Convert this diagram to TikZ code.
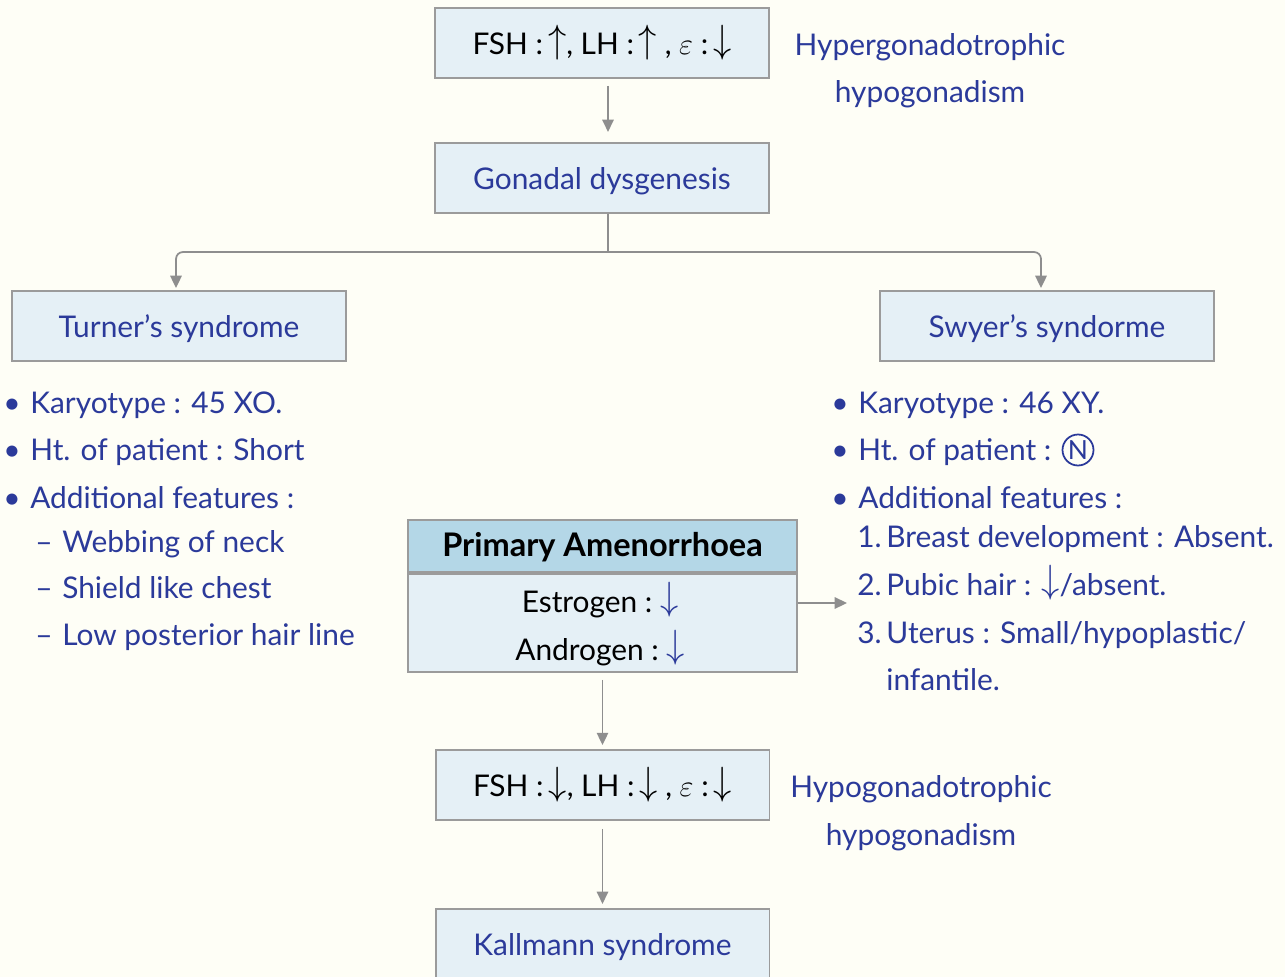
\documentclass[tikz,border=0pt]{standalone}
\usepackage{fontspec}
\usepackage{graphicx}
\setmainfont{Lato}
\usetikzlibrary{arrows.meta, positioning}
\definecolor{ink}{HTML}{2B3A9A}
\definecolor{paper}{HTML}{FEFEF6}
\definecolor{boxfill}{HTML}{E5F0F6}
\definecolor{boxline}{HTML}{9B9B9B}
\definecolor{headfill}{HTML}{B4D7E7}
\definecolor{wire}{HTML}{8E8E8E}
\newcommand{\bul}{\makebox[0.54cm][l]{\textbullet}}
\newcommand{\dsh}{\makebox[0.54cm][l]{--}}
\newcommand{\numlab}[1]{\makebox[0.58cm][l]{#1}}
\newcommand{\up}{\raisebox{0.08em}{\scalebox{1.2}[1.3]{$\uparrow$}}}
\newcommand{\dn}{\raisebox{0.08em}{\scalebox{1.2}[1.3]{$\downarrow$}}}
\tikzset{
  % Flow boxes
  box/.style={
    draw=boxline, fill=boxfill, line width=1.1pt,
    minimum width=6.68cm, minimum height=1.4cm,
    text height=17pt, text depth=3.5pt,
    font=\fontsize{17}{20}\selectfont, text=ink,
  },
  head/.style={box, fill=headfill, minimum width=7.78cm,
    minimum height=1.04cm, text=black, text height=16pt,
    font=\fontsize{18.5}{20}\selectfont\bfseries},
  % Arrows
  flow/.style={-{Triangle[length=7pt, width=6.5pt]}, line width=1pt, wire},
  % Free text
  entry/.style={anchor=base west, inner sep=0pt,
    font=\fontsize{17}{20}\selectfont, text=ink},
  side/.style={anchor=base, inner sep=0pt,
    font=\fontsize{17}{20}\selectfont, text=ink},
}

\begin{document}
\begin{tikzpicture}[x=0.02cm, y=-0.02cm]

\fill[paper] (0,0) rectangle (1285,977);
\useasboundingbox (0,0) rectangle (1285,977);

% ====================================================================
% Hypergonadotrophic branch
% ====================================================================
\node[box, text=black] (hyper) at (602,43)
  {FSH :\,\up, LH :\,\up\ , $\varepsilon$ :\,\dn};
\node[side] (hyperup) at (930,55) {Hypergonadotrophic};
\node[side] (hyperlow) at (930,102) {hypogonadism};

\node[box, below=1.26cm of hyper] (gonad) {Gonadal dysgenesis};
\draw[flow, shorten <=0.14cm, shorten >=0.2cm]
  ([xshift=0.12cm]hyper.south) -- ([xshift=0.12cm]gonad.north);

% ====================================================================
% Turner / Swyer
% ====================================================================
\node[box] (turner) at (179,326) {Turner’s syndrome};
\node[box] (swyer) at (1047,326) {Swyer’s syndorme};

\coordinate (split) at (608,252);
\draw[wire, line width=1pt] ([xshift=0.12cm]gonad.south) -- (split);
\draw[flow, rounded corners=4pt, shorten >=0.04cm]
  (split) -| ([xshift=-0.06cm]turner.north);
\draw[flow, rounded corners=4pt, shorten >=0.04cm]
  (split) -| ([xshift=-0.12cm]swyer.north);

% Turner features
\node[entry] (tkaryo) at (3,413) {\bul Karyotype : 45 XO.};
\node[entry] (theight) at (3,460) {\bul Ht. of patient : Short};
\node[entry] (tfeat) at (3,508) {\bul Additional features :};
\node[entry] (tweb) at (35,552) {\dsh Webbing of neck};
\node[entry] (tshield) at (35,598) {\dsh Shield like chest};
\node[entry] (thair) at (35,645) {\dsh Low posterior hair line};

% Swyer features
\node[entry] (skaryo) at (831,413) {\bul Karyotype : 46 XY.};
\node[entry] (sheight) at (831,460) {\bul Ht. of patient :};
\node[draw=ink, line width=1pt, circle, minimum size=0.62cm, inner sep=0pt,
      text=ink, font=\fontsize{15}{15}\selectfont] (snormal) at (1078,450) {N};
\node[entry] (sfeat) at (831,508) {\bul Additional features :};
\node[entry] (sbreast) at (857,547) {\numlab{1.}Breast development : Absent.};
\node[entry] (spubic) at (857,595) {\numlab{2.}Pubic hair : \dn/absent.};
\node[entry] (suterus) at (857,643) {\numlab{3.}Uterus : Small/hypoplastic/};
\node[entry] (sinfant) at (886,690) {infantile.};

% ====================================================================
% Primary Amenorrhoea
% ====================================================================
\node[head] (amen) at (602.5,546) {Primary Amenorrhoea};
\node[box, minimum width=7.78cm, minimum height=1.96cm,
      below=0pt of amen] (levels) {};
\node[side, text=black] (estro) at (600,612)
  {Estrogen :\ \textcolor{ink}{\dn}};
\node[side, text=black] (andro) at (600,660)
  {Androgen :\ \textcolor{ink}{\dn}};

\coordinate (featin) at (847,603);
\draw[flow] (levels.east |- featin) -- (featin);

% ====================================================================
% Hypogonadotrophic branch
% ====================================================================
\node[box, text=black] (hypo) at (602.5,785)
  {FSH :\,\dn, LH :\,\dn\ , $\varepsilon$ :\,\dn};
\node[side] (hypoup) at (921,797) {Hypogonadotrophic};
\node[side] (hypolow) at (921,845) {hypogonadism};

\draw[flow, shorten <=0.14cm, shorten >=0.08cm] (levels.south) -- (hypo.north);

\node[box, below=1.74cm of hypo] (kallmann) {Kallmann syndrome};
\draw[flow, shorten <=0.16cm, shorten >=0.08cm] (hypo.south) -- (kallmann.north);

\end{tikzpicture}
\end{document}
